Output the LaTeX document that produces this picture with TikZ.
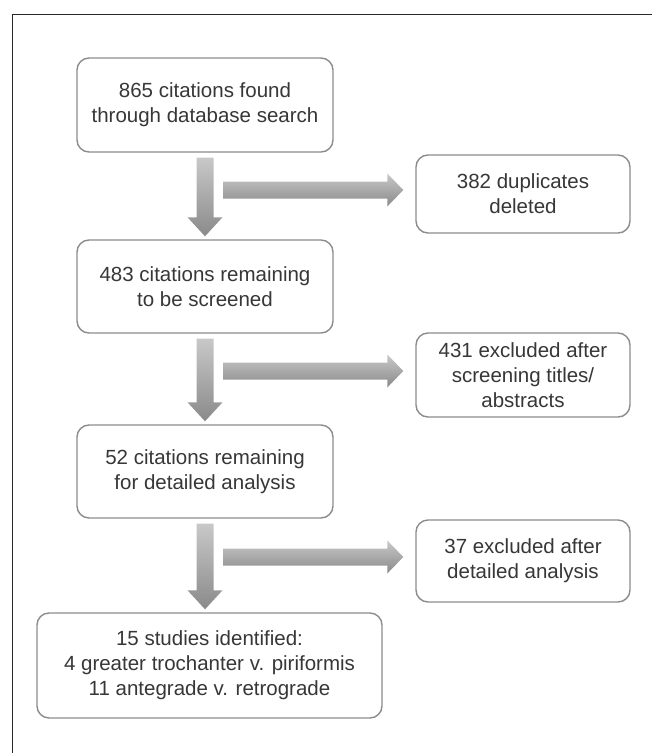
\documentclass[tikz,border=0pt]{standalone}
\usepackage{fontspec}
\setmainfont{Liberation Sans}
\definecolor{boxgray} {RGB}{140,140,140}
\definecolor{txtgray} {RGB}{55,55,55}
\definecolor{arrlight}{RGB}{200,200,200}
\definecolor{arrdark} {RGB}{138,138,138}
\definecolor{framegray}{RGB}{40,40,40}
\usetikzlibrary{calc}
\tikzset{
  box/.style={rectangle,rounded corners=12pt,draw=boxgray,line width=1.4pt,
              fill=white,text=txtgray,align=center,inner sep=0pt,
              font=\fontsize{20.5}{25}\selectfont},
  mainbox/.style={box,minimum width=256pt},
  sidebox/.style={box,minimum width=214pt},
  fat/.style={top color=arrlight,bottom color=arrdark,draw=none},
}

\begin{document}
\begin{tikzpicture}[x=1pt,y=-1pt]
        \useasboundingbox (0,0) rectangle (652,753);
        % frame
        \draw[framegray,line width=1pt] (12.5,753) -- (12.5,14) -- (652,14);
        % main column
        \node[mainbox, minimum height=94pt] (b1) at (205,105)
          {865 citations found\\through database search};
        \node[mainbox, minimum height=93pt] (b3) at (205,286.5)
          {483 citations remaining\\to be screened};
        \node[mainbox, minimum height=93pt] (b5) at (205,471.5)
          {52 citations remaining\\for detailed analysis};
        \node[box, minimum width=345pt, minimum height=105pt] (b7) at (209.5,665.5)
          {15 studies identified:\\4 greater trochanter v. piriformis\\11 antegrade v. retrograde};
        % excluded
        \node[sidebox, minimum height=78pt] (b2) at (523,194)
          {382 duplicates\\deleted};
        \node[sidebox, minimum height=84pt] (b4) at (523,375)
          {431 excluded after\\screening titles/\\abstracts};
        \node[sidebox, minimum height=82pt] (b6) at (523,561)
          {37 excluded after\\detailed analysis};
        % down arrows
        \foreach \a/\b in {b1/b3, b3/b5, b5/b7}
          \path[fat] let \p1=(\a.south), \p2=(\b.north) in
            (\x1-8.5pt,\y1-5pt) -- (\x1+8.5pt,\y1-5pt) -- (\x1+8.5pt,\y2+22pt)
            -- (\x1+17.5pt,\y2+22pt) -- (\x1,\y2+3pt) -- (\x1-17.5pt,\y2+22pt)
            -- (\x1-8.5pt,\y2+22pt) -- cycle;
        % side arrows
        \foreach \a/\b in {b1/b2, b3/b4, b5/b6}
          \path[fat] let \p1=(\a.south), \p2=(\b.west) in
            (\x1+18pt,\y2+12.5pt) -- (\x2-28pt,\y2+12.5pt) -- (\x2-28pt,\y2+20.5pt)
            -- (\x2-12pt,\y2+4pt) -- (\x2-28pt,\y2-12.5pt) -- (\x2-28pt,\y2-4.5pt)
            -- (\x1+18pt,\y2-4.5pt) -- cycle;
      \end{tikzpicture}
\end{document}
